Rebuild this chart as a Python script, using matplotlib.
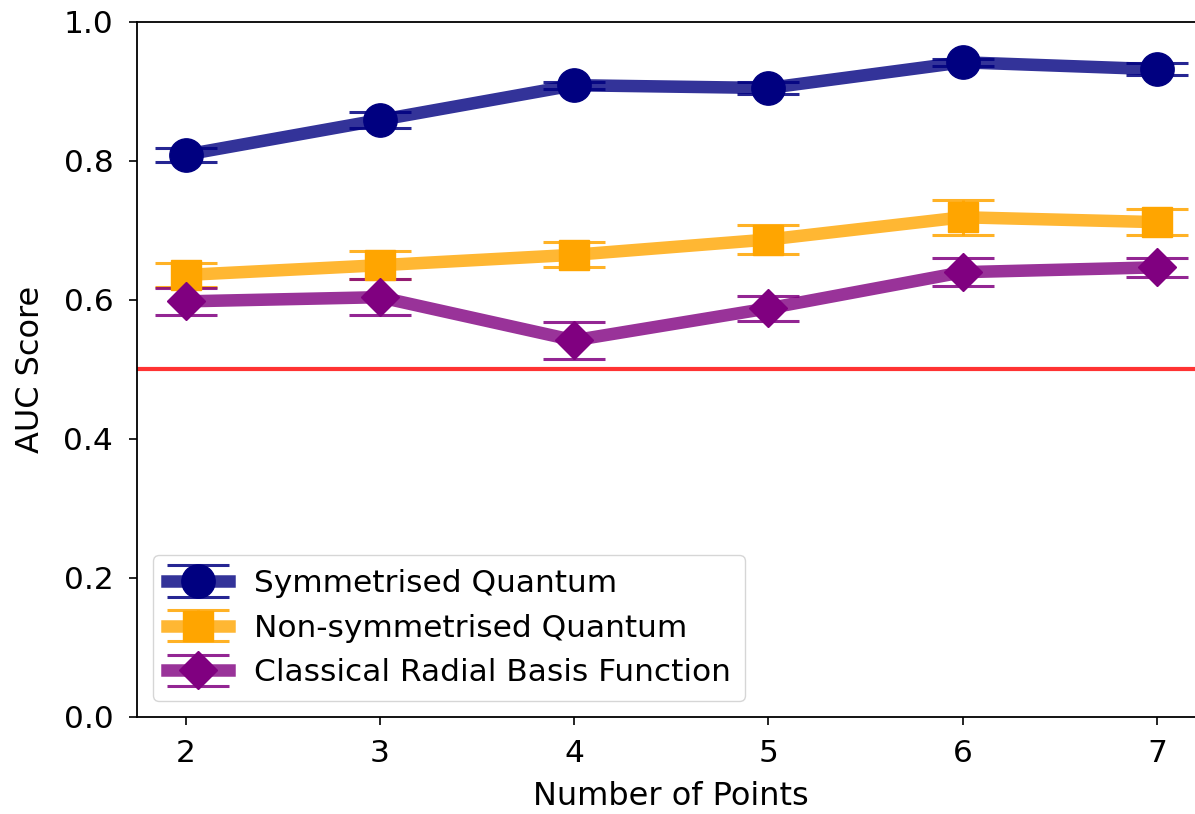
import matplotlib

matplotlib.use("Agg")
import matplotlib.pyplot as plt
from matplotlib.colors import to_rgba

n_points = [2, 3, 4, 5, 6, 7]

sym_auc = [0.809, 0.859, 0.909, 0.905, 0.942, 0.932]
sym_err = [0.010, 0.011, 0.005, 0.008, 0.005, 0.009]

nonsym_auc = [0.636, 0.650, 0.665, 0.687, 0.719, 0.712]
nonsym_err = [0.017, 0.020, 0.018, 0.021, 0.025, 0.019]

rbf_auc = [0.598, 0.604, 0.542, 0.588, 0.640, 0.647]
rbf_err = [0.019, 0.026, 0.027, 0.018, 0.020, 0.014]

series = [
    ("Symmetrised Quantum", sym_auc, sym_err, "navy", "o", 24),
    ("Non-symmetrised Quantum", nonsym_auc, nonsym_err, "orange", "s", 21),
    ("Classical Radial Basis Function", rbf_auc, rbf_err, "purple", "D", 19),
]

fig = plt.figure(figsize=(11.95, 8.14), dpi=100)
ax = fig.add_axes([0.1146, 0.1192, 0.8943, 0.8538])

for label, vals, errs, col, mk, ms in series:
    ax.errorbar(n_points, vals, yerr=errs, color=to_rgba(col, 0.8), marker=mk,
                markersize=ms, linewidth=9, capsize=22, capthick=2.2,
                elinewidth=2.2, ecolor=to_rgba(col, 0.85),
                markerfacecolor=col, markeredgecolor=col, label=label)

ax.axhline(0.5, color="red", linewidth=3, alpha=0.8)

ax.set_ylim(0, 1.0)
ax.set_xlim(1.75, 7.25)
ax.set_xticks(n_points)
ax.tick_params(labelsize=22.5, length=6, width=1.2)
ax.tick_params(axis="x", pad=10)
ax.tick_params(axis="y", pad=11)
for s in ax.spines.values():
    s.set_linewidth(1.3)
ax.set_xlabel("Number of Points", fontsize=23)
ax.set_ylabel("AUC Score", fontsize=23)
ax.xaxis.set_label_coords(0.5, -0.092)
ax.yaxis.set_label_coords(-0.085, 0.5)
ax.legend(loc="lower left", fontsize=22.5, borderaxespad=0.5, handlelength=2.0,
          labelspacing=0.5, borderpad=0.45)

fig.savefig("out.png", dpi=100)
